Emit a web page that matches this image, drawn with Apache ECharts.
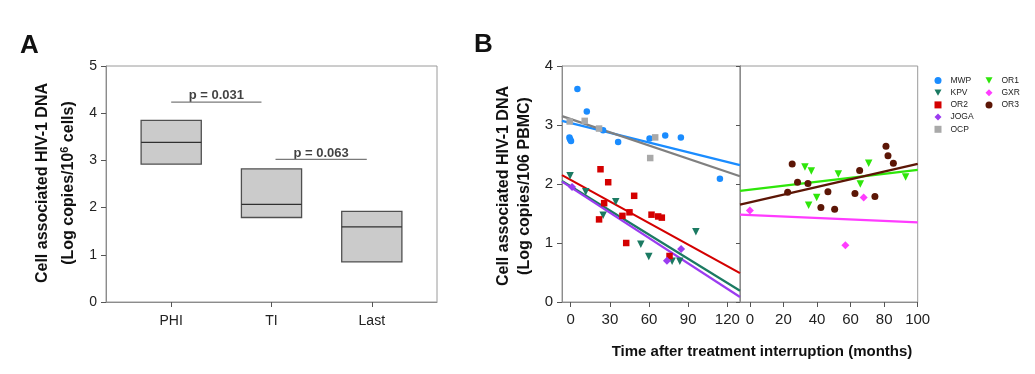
<!DOCTYPE html>
<html><head><meta charset="utf-8">
<script src="https://cdn.jsdelivr.net/npm/echarts@6/dist/echarts.min.js"></script>
<style>html,body{margin:0;padding:0;background:#fff}#c{width:1035px;height:374px}</style>
</head><body><div id="c"></div>
<script>
// ---------- Panel A data ----------
const groupsA = ['PHI', 'TI', 'Last'];
const groupPos = [1, 2, 3];
const boxLow = [2.92, 1.79, 0.85];
const boxMedian = [3.38, 2.07, 1.59];
const boxHigh = [3.85, 2.82, 1.92];
const pLabels = ['p = 0.031', 'p = 0.063'];
const pFrom = [1.0, 2.04];
const pTo = [1.9, 2.95];
const pLevel = [4.235, 3.02];

// ---------- Panel B data ----------
const xTicksLeft = [0, 30, 60, 90, 120];
const xTicksRight = [0, 20, 40, 60, 80, 100];
const leftNames = ['MWP', 'KPV', 'OR2', 'JOGA', 'OCP'];
const rightNames = ['OR1', 'GXR', 'OR3'];

const MWP = [[5.1, 3.61], [12.3, 3.23], [-1.0, 2.79], [-0.5, 2.76], [0.2, 2.73], [24.8, 2.91], [36.3, 2.71], [60.4, 2.77], [72.4, 2.82], [84.4, 2.79], [114.3, 2.09]];
const OCP = [[-0.8, 3.06], [10.7, 3.07], [21.7, 2.94], [64.7, 2.79], [60.9, 2.44]];
const OR2 = [[22.8, 2.25], [28.7, 2.03], [48.6, 1.80], [25.6, 1.675], [21.7, 1.40], [39.6, 1.46], [45.0, 1.52], [61.9, 1.48], [67.0, 1.45], [69.8, 1.43], [42.5, 1.00], [75.7, 0.78]];
const KPV = [[-0.5, 2.14], [11.5, 1.87], [34.5, 1.70], [24.8, 1.47], [53.7, 0.98], [59.8, 0.77], [77.7, 0.69], [83.6, 0.69], [95.9, 1.19]];
const JOGA = [[1.0, 1.95], [73.7, 0.70], [84.6, 0.90]];
const OR3 = [[25.2, 2.34], [28.4, 2.03], [34.6, 2.01], [22.5, 1.86], [46.5, 1.87], [42.3, 1.60], [50.5, 1.57], [62.6, 1.84], [65.4, 2.23], [74.5, 1.79], [81.1, 2.64], [82.3, 2.48], [85.5, 2.35]];
const OR1 = [[32.8, 2.29], [36.6, 2.22], [39.8, 1.77], [35.0, 1.64], [52.7, 2.17], [65.8, 2.00], [70.8, 2.35], [92.8, 2.12]];
const GXR = [[0, 1.55], [67.8, 1.77], [56.9, 0.96]];

// fitted regression lines: values at start / end of each panel's x range
const fitLeftX = [-6.7, 129.7];
const fitRightX = [-5.9, 100];
const fitMWP = [3.07, 2.32];
const fitOCP = [3.15, 2.13];
const fitOR2 = [2.15, 0.49];
const fitKPV = [2.05, 0.19];
const fitJOGA = [2.04, 0.085];
const fitOR1 = [1.885, 2.24];
const fitOR3 = [1.65, 2.34];
const fitGXR = [1.48, 1.35];

const FONT = '"Liberation Sans", Arial, sans-serif';
const TRI = 'path://M0,0 L10,0 L5,9 Z';
const colors = {
  MWP: '#1a8cff', KPV: '#1b7a62', OR2: '#d40000', JOGA: '#9b3cf0', OCP: '#a9a9a9',
  OR1: '#2ee60a', GXR: '#ff3cff', OR3: '#5c1606'
};
const lineColors = Object.assign({}, colors, { OCP: '#808080' });
const symbols = {
  MWP: ['circle', 6.5], KPV: [TRI, 7.5], OR2: ['rect', 6.5], JOGA: ['diamond', 8], OCP: ['rect', 6.5],
  OR1: [TRI, 7.5], GXR: ['diamond', 8], OR3: ['circle', 7]
};
const pts = { MWP, KPV, OR2, JOGA, OCP, OR1, GXR, OR3 };
const fits = { MWP: fitMWP, KPV: fitKPV, OR2: fitOR2, JOGA: fitJOGA, OCP: fitOCP, OR1: fitOR1, GXR: fitGXR, OR3: fitOR3 };

const axisGrey = '#8c8c8c';
const labelStyle = { color: '#222', fontFamily: FONT };

const series = [];
// Panel A boxes
series.push({
  type: 'custom', xAxisIndex: 0, yAxisIndex: 0, silent: true,
  data: groupPos.map((x, i) => [x, boxLow[i], boxMedian[i], boxHigh[i]]),
  renderItem: function (params, api) {
    const x = api.value(0);
    const tl = api.coord([x - 0.3, api.value(3)]);
    const br = api.coord([x + 0.3, api.value(1)]);
    const ml = api.coord([x - 0.3, api.value(2)]);
    const mr = api.coord([x + 0.3, api.value(2)]);
    return {
      type: 'group', children: [
        { type: 'rect', shape: { x: tl[0], y: tl[1], width: br[0] - tl[0], height: br[1] - tl[1] },
          style: { fill: '#cbcbcb', stroke: '#505050', lineWidth: 1.3 } },
        { type: 'line', shape: { x1: ml[0], y1: ml[1], x2: mr[0], y2: mr[1] },
          style: { stroke: '#303030', lineWidth: 1.3 } }
      ]
    };
  }
});
pLabels.forEach((lab, i) => {
  series.push({
    type: 'line', xAxisIndex: 0, yAxisIndex: 0, symbol: 'none', silent: true,
    lineStyle: { color: '#7a7a7a', width: 1.2 },
    data: [[pFrom[i], pLevel[i]], [pTo[i], pLevel[i]]]
  });
  series.push({
    type: 'scatter', xAxisIndex: 0, yAxisIndex: 0, symbolSize: 0, silent: true,
    data: [[(pFrom[i] + pTo[i]) / 2, pLevel[i]]],
    label: { show: true, position: 'top', distance: 0, formatter: lab,
      fontFamily: FONT, fontWeight: 'bold', fontSize: 13, color: '#111' }
  });
});

// Panel B
function addPatient(name, gridSide) {
  const xi = gridSide === 'L' ? 1 : 2;
  const yi = gridSide === 'L' ? 1 : 3;
  const fx = gridSide === 'L' ? fitLeftX : fitRightX;
  series.push({
    name: name + ' fit', type: 'line', xAxisIndex: xi, yAxisIndex: yi, symbol: 'none', silent: true,
    lineStyle: { color: lineColors[name], width: 2.2 },
    data: [[fx[0], fits[name][0]], [fx[1], fits[name][1]]], z: 2
  });
  series.push({
    name: name, type: 'scatter', xAxisIndex: xi, yAxisIndex: yi,
    symbol: symbols[name][0], symbolSize: symbols[name][1],
    itemStyle: { color: colors[name], opacity: 1 }, data: pts[name], z: 3
  });
}
leftNames.forEach(n => addPatient(n, 'L'));
rightNames.forEach(n => addPatient(n, 'R'));

const legendText = { fontSize: 8.5, lineHeight: 10, color: '#222', fontFamily: FONT, padding: [0, 0, 0, 4] };

const option = {
  animation: false,
  backgroundColor: '#fff',
  textStyle: { fontFamily: FONT },
  grid: [
    { left: 106, top: 66, width: 331, height: 236, show: true, borderColor: '#9a9a9a', borderWidth: 1 },
    { left: 562, top: 66, width: 178, height: 236, show: true, borderColor: '#9a9a9a', borderWidth: 1 },
    { left: 740, top: 66, width: 177.7, height: 236, show: true, borderColor: '#9a9a9a', borderWidth: 1 }
  ],
  xAxis: [
    { type: 'value', gridIndex: 0, min: 0.35, max: 3.65,
      axisLine: { show: true, onZero: false, lineStyle: { color: axisGrey } },
      axisTick: { show: true, customValues: groupPos, length: 5, lineStyle: { color: '#555' } },
      axisLabel: Object.assign({ customValues: groupPos, formatter: v => groupsA[Math.round(v) - 1], fontSize: 14, margin: 12 }, labelStyle),
      splitLine: { show: false } },
    { type: 'value', gridIndex: 1, min: -6.7, max: 129.7,
      axisLine: { show: true, onZero: false, lineStyle: { color: axisGrey } },
      axisTick: { show: true, customValues: xTicksLeft, length: 5, lineStyle: { color: '#555' } },
      axisLabel: Object.assign({ customValues: xTicksLeft, fontSize: 15, margin: 10 }, labelStyle),
      splitLine: { show: false } },
    { type: 'value', gridIndex: 2, min: -5.9, max: 100,
      axisLine: { show: true, onZero: false, lineStyle: { color: axisGrey } },
      axisTick: { show: true, customValues: xTicksRight, length: 5, lineStyle: { color: '#555' } },
      axisLabel: Object.assign({ customValues: xTicksRight, fontSize: 15, margin: 10 }, labelStyle),
      splitLine: { show: false } }
  ],
  yAxis: [
    { type: 'value', gridIndex: 0, min: 0, max: 5, interval: 1,
      axisLine: { show: true, onZero: false, lineStyle: { color: axisGrey } },
      axisTick: { show: true, length: 5, lineStyle: { color: '#555' } },
      axisLabel: Object.assign({ fontSize: 14, margin: 9 }, labelStyle),
      splitLine: { show: false } },
    { type: 'value', gridIndex: 1, min: 0, max: 4, interval: 1,
      axisLine: { show: true, onZero: false, lineStyle: { color: axisGrey } },
      axisTick: { show: true, length: 5, lineStyle: { color: '#555' } },
      axisLabel: Object.assign({ fontSize: 15, margin: 9 }, labelStyle),
      splitLine: { show: false } },
    { type: 'value', gridIndex: 1, min: 0, max: 4, interval: 1, position: 'right',
      axisLine: { show: true, onZero: false, lineStyle: { color: axisGrey } },
      axisTick: { show: true, inside: true, length: 4, lineStyle: { color: '#555' } },
      axisLabel: { show: false }, splitLine: { show: false } },
    { type: 'value', gridIndex: 2, min: 0, max: 4, interval: 1,
      axisLine: { show: true, onZero: false, lineStyle: { color: axisGrey } },
      axisTick: { show: false }, axisLabel: { show: false }, splitLine: { show: false } }
  ],
  legend: [
    { left: 929.5, top: 70.5, orient: 'vertical', itemWidth: 7, itemHeight: 7, itemGap: 2.2,
      textStyle: legendText, data: leftNames, selectedMode: false },
    { left: 980.5, top: 70.5, orient: 'vertical', itemWidth: 7, itemHeight: 7, itemGap: 2.2,
      textStyle: legendText, data: rightNames, selectedMode: false }
  ],
  graphic: [
    { type: 'text', left: 20, top: 33, style: { text: 'A', font: 'bold 26px ' + FONT, fill: '#111' } },
    { type: 'text', left: 474, top: 32, style: { text: 'B', font: 'bold 26px ' + FONT, fill: '#111' } },
    { type: 'text', x: 42.7, y: 183, rotation: Math.PI / 2,
      style: { text: 'Cell associated HIV-1 DNA', font: 'bold 16px ' + FONT, fill: '#111', align: 'center', verticalAlign: 'middle' } },
    { type: 'text', x: 68.3, y: 183, rotation: Math.PI / 2,
      style: { text: '(Log copies/10{sup|6} cells)', font: 'bold 16px ' + FONT, fill: '#111', align: 'center', verticalAlign: 'middle',
        rich: { sup: { font: 'bold 11px ' + FONT, fill: '#111', verticalAlign: 'top', lineHeight: 18 } } } },
    { type: 'text', x: 503.3, y: 186, rotation: Math.PI / 2,
      style: { text: 'Cell associated HIV-1 DNA', font: 'bold 16px ' + FONT, fill: '#111', align: 'center', verticalAlign: 'middle' } },
    { type: 'text', x: 525, y: 186, rotation: Math.PI / 2,
      style: { text: '(Log copies/106 PBMC)', font: 'bold 16px ' + FONT, fill: '#111', align: 'center', verticalAlign: 'middle' } },
    { type: 'text', x: 762, y: 352,
      style: { text: 'Time after treatment interruption (months)', font: 'bold 15px ' + FONT, fill: '#111', align: 'center', verticalAlign: 'middle' } }
  ],
  series: series
};
const chart = echarts.init(document.getElementById('c'), null, { renderer: 'canvas' });
chart.setOption(option);
</script></body></html>
